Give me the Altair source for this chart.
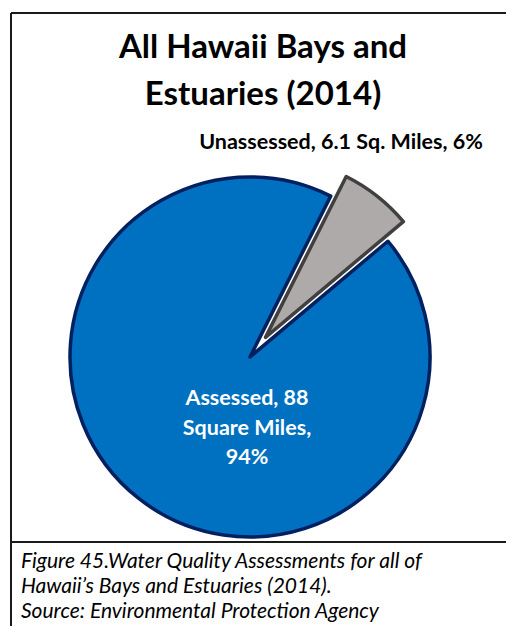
import math
import altair as alt
import pandas as pd

categories = ["Unassessed", "Assessed"]
values = [6.1, 88]
order = [0, 1]
fills = ["#AEAAAA", "#0070C0"]
strokes = ["#404040", "#002060"]

title_lines = ["All Hawaii Bays and", "Estuaries (2014)"]
unassessed_label = "Unassessed, 6.1 Sq. Miles, 6%"
assessed_lines = ["Assessed, 88", "Square Miles,", "94%"]
caption_lines = [
    "Figure 45.Water Quality Assessments for all of",
    "Hawaii\u2019s Bays and Estuaries (2014).",
    "Source: Environmental Protection Agency",
]

W, H = 498, 618
CX, CY = 242, 349
R = 180
START = 0.465
EXPLODE = 25

df = pd.DataFrame({"cat": categories, "val": values, "ord": order,
                   "fill": fills, "stroke": strokes})

base = alt.Chart(df).transform_joinaggregate(
    total="sum(val)"
).transform_window(
    cum="sum(val)", sort=[alt.SortField("ord")], frame=[None, 0]
).transform_calculate(
    t1=f"{START} + 2*PI*datum.cum/datum.total",
    t0=f"{START} + 2*PI*(datum.cum-datum.val)/datum.total",
)

mid = START + 2 * math.pi * values[0] / sum(values) / 2
dx = EXPLODE * math.sin(mid)
dy = -EXPLODE * math.cos(mid)

assessed = base.transform_filter("datum.cat == 'Assessed'").mark_arc(
    outerRadius=R, fill=fills[1], stroke=strokes[1], strokeWidth=3.5,
    strokeJoin="round"
).encode(
    theta=alt.Theta("t0:Q", scale=None), theta2="t1:Q",
    x=alt.value(CX), y=alt.value(CY),
)

unassessed = base.transform_filter("datum.cat == 'Unassessed'").mark_arc(
    outerRadius=R, fill=fills[0], stroke=strokes[0], strokeWidth=3.5,
    strokeJoin="round"
).encode(
    theta=alt.Theta("t0:Q", scale=None), theta2="t1:Q",
    x=alt.value(CX + dx), y=alt.value(CY + dy),
)

font = "Lato"

def text_layer(lines, x, y0, dy_line, size, color="black", bold=True,
               italic=False, align="center"):
    d = pd.DataFrame({"t": lines, "i": list(range(len(lines)))})
    return alt.Chart(d).mark_text(
        font=font, fontSize=size, fontWeight="bold" if bold else "normal",
        fontStyle="italic" if italic else "normal", color=color,
        align=align, baseline="middle"
    ).encode(
        text="t:N",
        x=alt.value(x),
        y=alt.Y("i:Q", scale=alt.Scale(
            domain=[0, 1], range=[y0, y0 + dy_line]), axis=None),
    )

title = text_layer(title_lines, 255, 40, 47, 33)
ulabel = text_layer([unassessed_label], 333, 135, 20, 21.5)
alabel = text_layer(assessed_lines, 239, 391, 29.5, 21.5, color="white")
caption = text_layer(caption_lines, 13, 554, 25, 21, bold=False,
                     italic=True, align="left")

frame_df = pd.DataFrame({
    "x": [3, 3, 3], "x2": [W, 3, W],
    "y": [5, 5, 534], "y2": [5, H, 534],
})
frame = alt.Chart(frame_df).mark_rule(color="#1a1a1a", strokeWidth=2).encode(
    x=alt.X("x:Q", scale=None), x2="x2:Q",
    y=alt.Y("y:Q", scale=None), y2="y2:Q",
)

chart = alt.layer(frame, assessed, unassessed, title, ulabel, alabel, caption).resolve_scale(
    y="independent"
).properties(
    width=W, height=H, padding=0, autosize=alt.AutoSizeParams(type="none")
).configure_view(stroke=None)

chart.save("out.html", embed_options={"renderer": "svg", "actions": False})
